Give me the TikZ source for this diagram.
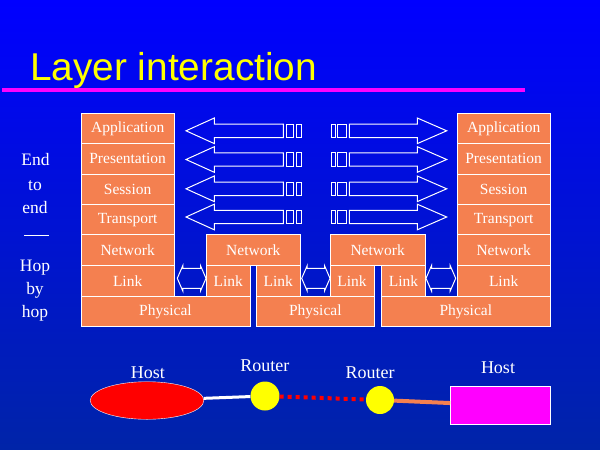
\documentclass[tikz,border=0pt]{standalone}
\usepackage{fontspec}
\setmainfont{Liberation Serif}
\newfontfamily\titlefont{Liberation Sans}
\usetikzlibrary{shapes.geometric}
\definecolor{layerorange}{RGB}{244,128,80}
\definecolor{bgtop}{RGB}{0,0,255}
\definecolor{bgbottom}{RGB}{0,36,168}
\definecolor{titleyellow}{RGB}{255,255,0}
\definecolor{rulemagenta}{RGB}{255,0,255}
\definecolor{hostred}{RGB}{255,0,0}
\tikzset{
  layer/.style={draw=white, line width=1pt, fill=layerorange},
  ltext/.style={text=white, font=\fontsize{15.5}{18}\selectfont},
  side/.style={text=white, anchor=base, font=\fontsize{17.5}{20}\selectfont},
  hollow/.style={draw=white, line width=1pt},
  blabel/.style={text=white, anchor=base, font=\fontsize{18}{20}\selectfont},
}

\begin{document}
\begin{tikzpicture}[x=1pt, y=-1pt]
\shade[top color=bgtop, bottom color=bgbottom] (0,0) rectangle (600,450);

% title
\node[anchor=base west, text=titleyellow, inner sep=0, font=\titlefont\fontsize{38.8}{40}\selectfont] (title) at (30,80) {Layer interaction};
\draw[rulemagenta, line width=4pt] (2,89.7) -- (525,89.7);

% left host
\draw[layer] (81,113.3) rectangle (174.3,143.6) node[pos=.5, ltext] (app1) {Application};
\draw[layer] (81,143.6) rectangle (174.3,174) node[pos=.5, ltext] (pres1) {Presentation};
\draw[layer] (81,174) rectangle (174.3,204.4) node[pos=.5, ltext] (sess1) {Session};
\draw[layer] (81,204.4) rectangle (174.3,234.8) node[pos=.5, ltext] (trans1) {Transport};
\draw[layer] (81,234.8) rectangle (174.3,265.6) node[pos=.5, ltext] (net1) {Network};
\draw[layer] (81,265.6) rectangle (174.3,296.3) node[pos=.5, ltext] (link1) {Link};
\draw[layer] (81,296.3) rectangle (250,326.7) node[pos=.5, ltext] (phys1) {Physical};

% first router
\draw[layer] (206.7,234.8) rectangle (300,265.6) node[pos=.5, ltext] (net2) {Network};
\draw[layer] (206.7,265.6) rectangle (250,296.3) node[pos=.5, ltext] (link2) {Link};
\draw[layer] (256.7,265.6) rectangle (300,296.3) node[pos=.5, ltext] (link3) {Link};
\draw[layer] (256.7,296.3) rectangle (374,326.7) node[pos=.5, ltext] (phys2) {Physical};

% second router
\draw[layer] (330,234.8) rectangle (425.3,265.6) node[pos=.5, ltext] (net3) {Network};
\draw[layer] (330,265.6) rectangle (374,296.3) node[pos=.5, ltext] (link4) {Link};
\draw[layer] (381.7,265.6) rectangle (425.3,296.3) node[pos=.5, ltext] (link5) {Link};
\draw[layer] (381.7,296.3) rectangle (550,326.7) node[pos=.5, ltext] (phys3) {Physical};

% right host
\draw[layer] (457.3,113.3) rectangle (550,143.6) node[pos=.5, ltext] (app2) {Application};
\draw[layer] (457.3,143.6) rectangle (550,174) node[pos=.5, ltext] (pres2) {Presentation};
\draw[layer] (457.3,174) rectangle (550,204.4) node[pos=.5, ltext] (sess2) {Session};
\draw[layer] (457.3,204.4) rectangle (550,234.8) node[pos=.5, ltext] (trans2) {Transport};
\draw[layer] (457.3,234.8) rectangle (550,265.6) node[pos=.5, ltext] (net4) {Network};
\draw[layer] (457.3,265.6) rectangle (550,296.3) node[pos=.5, ltext] (link6) {Link};

% peer arrows
\foreach \y in {130.8,159.5,188.8,217} {
  \draw[hollow] (186,\y) -- (214.3,\y-12.8) -- (214.3,\y-6.7) -- (283.3,\y-6.7)
    -- (283.3,\y+6.7) -- (214.3,\y+6.7) -- (214.3,\y+12.8) -- cycle;
  \draw[hollow] (286,\y-6.7) rectangle (293.3,\y+6.7);
  \draw[hollow] (296,\y-6.7) rectangle (301.7,\y+6.7);
  \draw[hollow] (331,\y-6.7) rectangle (335.7,\y+6.7);
  \draw[hollow] (337.7,\y-6.7) rectangle (346,\y+6.7);
  \draw[hollow] (349.3,\y-6.7) -- (417.3,\y-6.7) -- (417.3,\y-12.8) -- (446.7,\y)
    -- (417.3,\y+12.8) -- (417.3,\y+6.7) -- (349.3,\y+6.7) -- cycle;
}

% link arrows
\foreach \a/\b in {177.3/206, 301.7/330, 426/455.7} {
  \draw[hollow] (\a,278.3) -- (\a+5.5,265.6) -- (\a+5.5,268.3) -- (\b-5.5,268.3)
    -- (\b-5.5,265.6) -- (\b,278.3) -- (\b-5.5,291) -- (\b-5.5,288.3)
    -- (\a+5.5,288.3) -- (\a+5.5,291) -- cycle;
}

% side labels
\node[side] (end1) at (35.5,165.7) {End};
\node[side] (to) at (35,190) {to};
\node[side] (end2) at (35,213.3) {end};
\draw[white, line width=1pt] (24,235) -- (49,235);
\node[side] (hop1) at (35,271.7) {Hop};
\node[side] (by) at (35,294.3) {by};
\node[side] (hop2) at (35,317.3) {hop};

% hosts and routers
\node[ellipse, draw=white, fill=hostred, minimum width=113.6pt, minimum height=37.6pt, inner sep=0] (host1) at (147,400.5) {};
\node[circle, fill=titleyellow, minimum size=29pt, inner sep=0] (router1) at (265,396) {};
\node[circle, fill=titleyellow, minimum size=28pt, inner sep=0] (router2) at (380,400) {};
\node[draw=white, fill=rulemagenta, minimum width=99.5pt, minimum height=38.3pt, inner sep=0] (host2) at (500,405.2) {};
\node[blabel] (hostlbl1) at (147.8,378.3) {Host};
\node[blabel] (routerlbl1) at (264.9,371.7) {Router};
\node[blabel] (routerlbl2) at (370,378.3) {Router};
\node[blabel] (hostlbl2) at (498,373.3) {Host};

\draw[white, line width=3pt] (host1) -- (router1);
\draw[hostred, line width=4pt, dash pattern=on 4pt off 4pt] (router1) -- (router2);
\draw[layerorange, line width=4pt] (router2) -- (host2);
\end{tikzpicture}
\end{document}
